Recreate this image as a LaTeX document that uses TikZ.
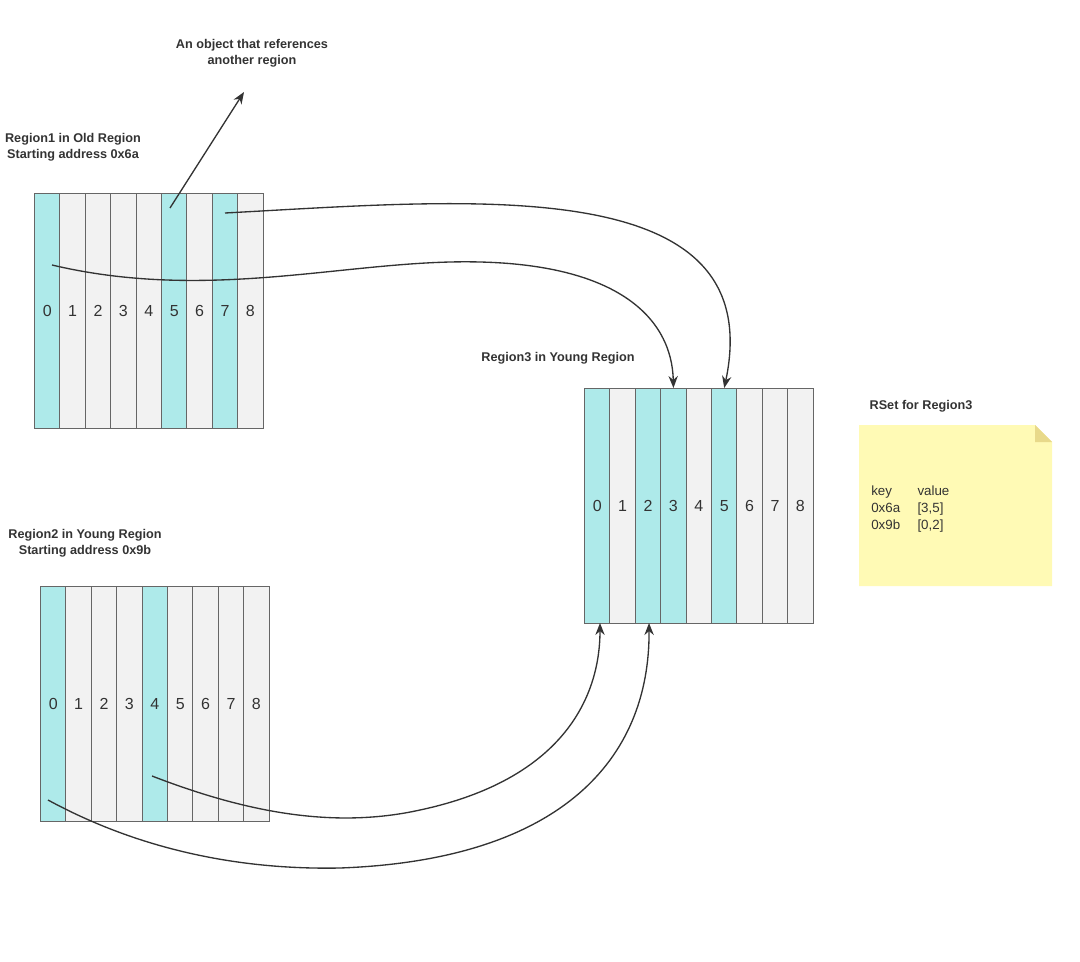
\documentclass[tikz,border=0pt]{standalone}
\usepackage{fontspec}
\setmainfont{Liberation Sans}
\usetikzlibrary{arrows.meta}
\definecolor{cy}{HTML}{AEEAEA}
\definecolor{gr}{HTML}{F2F2F2}
\definecolor{bd}{HTML}{666666}
\definecolor{tx}{HTML}{333333}
\definecolor{note}{HTML}{FFFAB5}
\definecolor{fold}{HTML}{E8D98A}
\begin{document}
\begin{tikzpicture}[x=0.75pt,y=-0.75pt,
  col/.style={draw=bd,line width=0.8pt,minimum width=25.4*0.75pt,minimum height=235*0.75pt,inner sep=0pt,anchor=north west,font=\fontsize{12}{14}\selectfont,text=tx},
  lbl/.style={font=\bfseries\fontsize{9.5}{12}\selectfont,text=tx,align=center},
  arr/.style={draw=tx,line width=1pt,-{Stealth[length=9pt,width=7pt]}}]
\useasboundingbox (0,0) rectangle (1080,962);
% Region1
\foreach \i in {0,...,8}{
  \pgfmathsetmacro\xx{34+25.4*\i}
  \def\c{gr}\ifnum\i=0 \def\c{cy}\fi\ifnum\i=5 \def\c{cy}\fi\ifnum\i=7 \def\c{cy}\fi
  \node[col,fill=\c] (a\i) at (\xx,193) {\i};}
% Region2
\foreach \i in {0,...,8}{
  \pgfmathsetmacro\xx{40+25.4*\i}
  \def\c{gr}\ifnum\i=0 \def\c{cy}\fi\ifnum\i=4 \def\c{cy}\fi
  \node[col,fill=\c] (b\i) at (\xx,586) {\i};}
% Region3
\foreach \i in {0,...,8}{
  \pgfmathsetmacro\xx{584+25.4*\i}
  \def\c{gr}\ifnum\i=0 \def\c{cy}\fi\ifnum\i=2 \def\c{cy}\fi\ifnum\i=3 \def\c{cy}\fi\ifnum\i=5 \def\c{cy}\fi
  \node[col,fill=\c] (c\i) at (\xx,388) {\i};}
\node[lbl] (l1) at (73,147) {Region1 in Old Region\\Starting address 0x6a};
\node[lbl] (l2) at (85,543) {Region2 in Young Region\\Starting address 0x9b};
\node[lbl] (l3) at (558,358) {Region3 in Young Region};
\node[lbl] (l4) at (252,53) {An object that references\\another region};
\node[lbl] (l5) at (921,406) {RSet for Region3};
% note
\fill[note] (859,425) -- (1035,425) -- (1052,442) -- (1052,586) -- (859,586) -- cycle;
\fill[fold] (1035,425) -- (1052,442) -- (1035,442) -- cycle;
\node[anchor=north west,inner sep=0pt,text=tx,font=\fontsize{10}{12.8}\selectfont] (kv) at (871,483)
 {\begin{tabular}{@{}l@{\hspace{1.3em}}l@{}}key & value\\0x6a & [3,5]\\0x9b & [0,2]\end{tabular}};
% arrows
\coordinate (s1) at (170,208);
\coordinate (t1) at (244,92);
\draw[arr] (s1) -- (t1);
\coordinate (s2) at (225,213);
\draw[arr] (s2) .. controls (470,200) and (770,170) .. (c5.north);
\coordinate (s3) at (52,265);
\draw[arr] (s3) .. controls (200,300) and (330,265) .. (450,262) .. controls (620,258) and (672,320) .. (c3.north);
\coordinate (s4) at (152,776);
\draw[arr] (s4) .. controls (240,810) and (330,830) .. (420,810) .. controls (560,780) and (600,700) .. (600,623);
\coordinate (s5) at (48,800);
\draw[arr] (s5) .. controls (140,850) and (240,870) .. (340,868) .. controls (560,860) and (650,760) .. (649,623);
\end{tikzpicture}
\end{document}
